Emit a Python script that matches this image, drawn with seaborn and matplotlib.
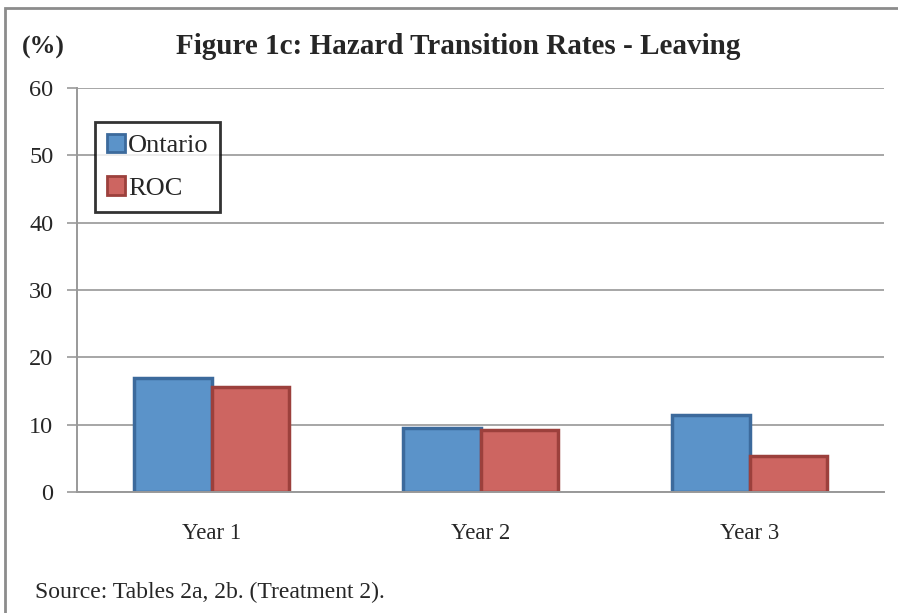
import pandas as pd
import seaborn as sns
import matplotlib.pyplot as plt
from matplotlib.patches import Rectangle

# values
years = ['Year 1', 'Year 2', 'Year 3']
ontario = [17.0, 9.5, 11.4]
roc = [15.6, 9.2, 5.4]
regions = ['Ontario', 'ROC']
yticks = [0, 10, 20, 30, 40, 50, 60]

data = pd.DataFrame({
    'Year': years * 2,
    'Rate': ontario + roc,
    'Region': ['Ontario'] * 3 + ['ROC'] * 3,
})

fills = {'Ontario': '#5B93C9', 'ROC': '#CD6561'}
edges = {'Ontario': '#3C6A9C', 'ROC': '#9C403C'}

sns.set_style('white')
plt.rcParams['font.family'] = ['Liberation Serif', 'DejaVu Serif']

fig = plt.figure(figsize=(8.98, 6.13), dpi=100)
ax = fig.add_axes([77 / 898, 1 - 492 / 613, 807 / 898, 404 / 613])

sns.barplot(data=data, x='Year', y='Rate', hue='Region', hue_order=regions,
            palette=fills, width=0.574, saturation=1, ax=ax)

for cont, reg in zip(ax.containers, regions):
    for bar in cont:
        bar.set_edgecolor(edges[reg])
        bar.set_linewidth(2.5)

ax.set_xlim(-0.5, 2.5)
ax.set_ylim(0, 60)
ax.set_yticks(yticks)
ax.set_yticklabels([str(t) for t in yticks], fontsize=17.5)
ax.set_xticks([0, 1, 2])
ax.set_xticklabels(years, fontsize=16.5)
ax.set_xticks([0.5, 1.5, 2.5], minor=True)
ax.tick_params(axis='x', which='major', length=0, pad=22)
ax.tick_params(axis='x', which='minor', length=7, width=1.2, color='#999999', direction='out')
ax.tick_params(axis='y', length=7, width=1.2, color='#999999', direction='out', left=True, pad=10)
ax.set_xlabel('')
ax.set_ylabel('')

ax.yaxis.grid(True, color='#A6A6A6', linewidth=1.4)
ax.set_axisbelow(True)
for side in ['top', 'right']:
    ax.spines[side].set_visible(False)
for side in ['left', 'bottom']:
    ax.spines[side].set_color('#999999')
    ax.spines[side].set_linewidth(1.4)

handles, labels = ax.get_legend_handles_labels()
for h, reg in zip(handles, regions):
    h.set_edgecolor(edges[reg])
    h.set_linewidth(2)
leg = ax.legend(handles, labels, loc='upper left', bbox_to_anchor=(18 / 807, 1 - 34 / 404),
                fontsize=19, frameon=True, fancybox=False, handlelength=0.7,
                handleheight=0.7, handletextpad=0.1, labelspacing=0.72,
                borderpad=0.45, borderaxespad=0)
leg.get_frame().set_edgecolor('black')
leg.get_frame().set_linewidth(2)

fig.text(22 / 898, 1 - 47 / 613, '(%)', fontsize=18.5, fontweight='bold', va='center', ha='left')
fig.text(458 / 898, 1 - 47 / 613, 'Figure 1c: Hazard Transition Rates - Leaving',
         fontsize=21, fontweight='bold', va='center', ha='center')
fig.text(35 / 898, 1 - 592 / 613, 'Source: Tables 2a, 2b. (Treatment 2).',
         fontsize=17, va='center', ha='left')

fig.patches.append(Rectangle((5 / 898, -0.1), 1.2, 1.1 - 8 / 613, transform=fig.transFigure,
                             fill=False, edgecolor='#8C8C8C', linewidth=2))

fig.savefig('out.png', dpi=100)
